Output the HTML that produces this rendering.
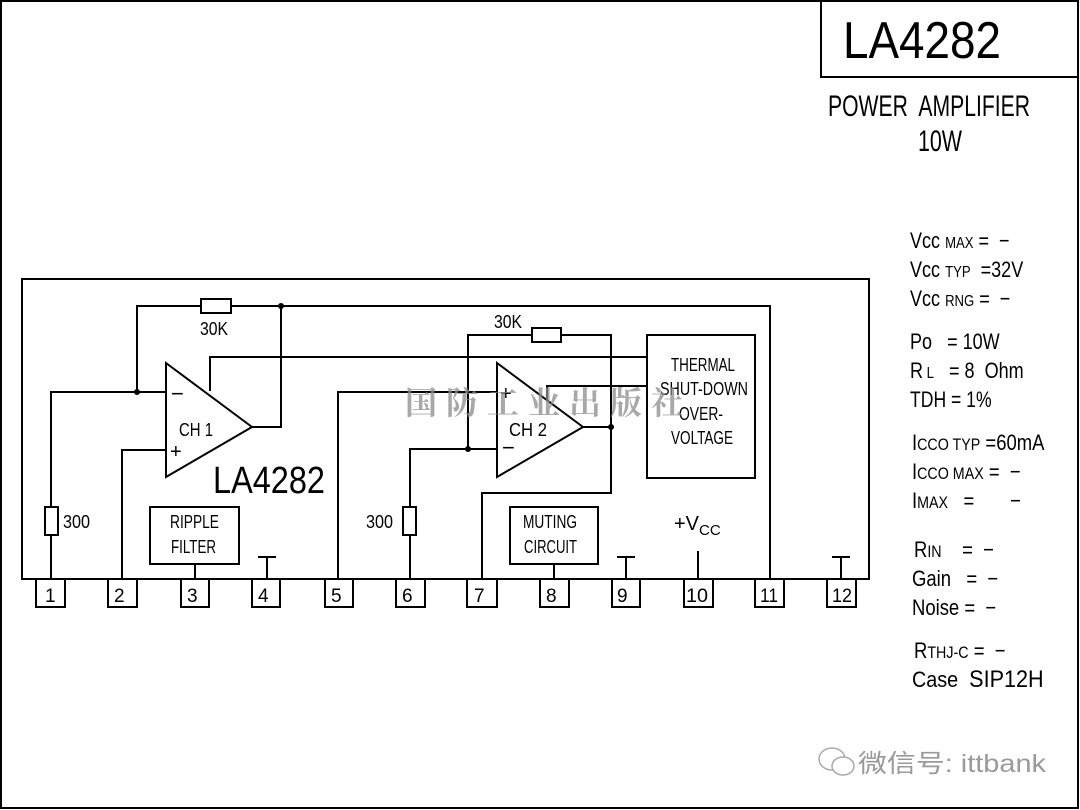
<!DOCTYPE html>
<html><head><meta charset="utf-8"><style>
html,body{margin:0;padding:0;background:#fff;width:1080px;height:810px;overflow:hidden}
svg{display:block}
text{font-family:"Liberation Sans","Noto Sans CJK SC",sans-serif;fill:#000;white-space:pre}
</style></head><body>
<svg width="1080" height="810" viewBox="0 0 1080 810" xmlns="http://www.w3.org/2000/svg">
<rect x="1" y="1" width="1077" height="807" fill="none" stroke="#000" stroke-width="2"/>
<path d="M821 1 V77 H1078" fill="none" stroke="#000" stroke-width="2"/>
<text x="843" y="58" font-size="52" textLength="158" lengthAdjust="spacingAndGlyphs">LA4282</text>
<text x="828" y="116" font-size="30" textLength="202" lengthAdjust="spacingAndGlyphs">POWER  AMPLIFIER</text>
<text x="918" y="151" font-size="30" textLength="44" lengthAdjust="spacingAndGlyphs">10W</text>

<g stroke="#000" stroke-width="2" fill="none">
<rect x="22" y="279" width="847" height="300"/>
<rect x="36" y="579" width="29" height="28"/>
<rect x="108" y="579" width="29" height="28"/>
<rect x="181" y="579" width="28" height="28"/>
<rect x="252" y="579" width="28" height="28"/>
<rect x="325" y="579" width="28" height="28"/>
<rect x="396" y="579" width="29" height="28"/>
<rect x="467" y="579" width="30" height="28"/>
<rect x="540" y="579" width="29" height="28"/>
<rect x="612" y="579" width="28" height="28"/>
<rect x="684" y="579" width="29" height="28"/>
<rect x="755" y="579" width="29" height="28"/>
<rect x="827" y="579" width="29" height="28"/>
<path d="M166 363 L252 427 L166 477 Z"/>
<path d="M137 392 V306 H770 V579"/>
<path d="M51 579 V535 M51 507 V392 H166"/>
<rect x="45" y="507" width="13" height="28" fill="#fff"/>
<path d="M122 579 V450 H166"/>
<path d="M252 427 H281 V306"/>
<path d="M210 391 V357 H647"/>
<rect x="201" y="299" width="30" height="14" fill="#fff"/>
<rect x="150" y="507" width="89" height="57"/>
<path d="M195 564 V579"/>
<path d="M267 579 V557 M258 557 H276"/>
<path d="M497 363 L583 427 L497 477 Z"/>
<path d="M338 579 V392 H497"/>
<path d="M410 579 V535 M410 507 V449 H497"/>
<rect x="403" y="507" width="13" height="28" fill="#fff"/>
<path d="M468 449 V335 H611 V493 H482 V579"/>
<path d="M583 427 H611"/>
<rect x="532" y="328" width="29" height="14" fill="#fff"/>
<path d="M547 400 V386 H647"/>
<rect x="647" y="335" width="108" height="143"/>
<rect x="510" y="507" width="88" height="57"/>
<path d="M554 564 V579"/>
<path d="M626 579 V557 M617 557 H635"/>
<path d="M698 579 V551"/>
<path d="M841 579 V557 M832 557 H850"/>
</g>
<g fill="#000">
<circle cx="137" cy="392" r="3"/><circle cx="281" cy="306" r="3"/>
<circle cx="468" cy="449" r="3"/><circle cx="611" cy="427" r="3"/>
</g>
<g font-size="18">
<text x="200" y="335" textLength="28" lengthAdjust="spacingAndGlyphs">30K</text>
<text x="494" y="328" textLength="28" lengthAdjust="spacingAndGlyphs">30K</text>
<text x="63" y="528" textLength="27" lengthAdjust="spacingAndGlyphs">300</text>
<text x="366" y="528" textLength="27" lengthAdjust="spacingAndGlyphs">300</text>
<text x="179" y="436" textLength="34" lengthAdjust="spacingAndGlyphs">CH 1</text>
<text x="509" y="436" textLength="38" lengthAdjust="spacingAndGlyphs">CH 2</text>
<text x="170" y="528" textLength="49" lengthAdjust="spacingAndGlyphs">RIPPLE</text>
<text x="171" y="553" textLength="45" lengthAdjust="spacingAndGlyphs">FILTER</text>
<text x="523" y="528" textLength="54" lengthAdjust="spacingAndGlyphs">MUTING</text>
<text x="524" y="553" textLength="53" lengthAdjust="spacingAndGlyphs">CIRCUIT</text>
<text x="671" y="371" textLength="64" lengthAdjust="spacingAndGlyphs">THERMAL</text>
<text x="660" y="395" textLength="88" lengthAdjust="spacingAndGlyphs">SHUT-DOWN</text>
<text x="679" y="420" textLength="44" lengthAdjust="spacingAndGlyphs">OVER-</text>
<text x="671" y="444" textLength="62" lengthAdjust="spacingAndGlyphs">VOLTAGE</text>
</g>
<text x="171" y="401" font-size="22">−</text>
<text x="170" y="458" font-size="20">+</text>
<text x="500" y="400" font-size="20">+</text>
<text x="502" y="455" font-size="22">−</text>
<text x="213" y="493" font-size="38" textLength="112" lengthAdjust="spacingAndGlyphs">LA4282</text>
<text x="674" y="530" font-size="20">+V<tspan font-size="15" dy="5">CC</tspan></text>
<g font-size="19">
<text x="45" y="602">1</text><text x="114" y="602">2</text><text x="187" y="602">3</text>
<text x="258" y="602">4</text><text x="331" y="602">5</text><text x="402" y="602">6</text>
<text x="474" y="602">7</text><text x="546" y="602">8</text><text x="617" y="602">9</text>
<text x="686" y="602" textLength="22" lengthAdjust="spacingAndGlyphs">10</text>
<text x="760" y="602" textLength="18" lengthAdjust="spacingAndGlyphs">11</text>
<text x="832" y="602" textLength="20" lengthAdjust="spacingAndGlyphs">12</text>
</g>
<text x="405" y="414" font-size="32" letter-spacing="9" style="fill:#8c8c8c;font-family:'Noto Serif CJK SC','Noto Sans CJK SC',sans-serif;font-weight:bold" opacity="0.75">国防工业出版社</text>
<g font-size="22">
<text transform="translate(910,248) scale(0.82,1)">Vcc <tspan font-size="16">MAX</tspan> =  −</text>
<text transform="translate(910,277) scale(0.82,1)">Vcc <tspan font-size="16">TYP</tspan>  =32V</text>
<text transform="translate(910,306) scale(0.82,1)">Vcc <tspan font-size="16">RNG</tspan> =  −</text>
<text transform="translate(910,349) scale(0.82,1)">Po   = 10W</text>
<text transform="translate(910,378) scale(0.82,1)">R<tspan font-size="16"> L</tspan>   = 8  Ohm</text>
<text transform="translate(910,407) scale(0.8,1)">TDH = 1%</text>
<text transform="translate(912,450) scale(0.84,1)">I<tspan font-size="17">CCO TYP</tspan> =60mA</text>
<text transform="translate(912,479) scale(0.84,1)">I<tspan font-size="17">CCO MAX</tspan> =  −</text>
<text transform="translate(912,508) scale(0.84,1)">I<tspan font-size="17">MAX</tspan>   =       −</text>
<text transform="translate(914,557) scale(0.84,1)">R<tspan font-size="17">IN</tspan>    =  −</text>
<text transform="translate(912,586) scale(0.84,1)">Gain   =  −</text>
<text transform="translate(912,615) scale(0.84,1)">Noise =  −</text>
<text transform="translate(914,658) scale(0.84,1)">R<tspan font-size="17">THJ-C</tspan> =  −</text>
<text transform="translate(912,687) scale(0.9,1)">Case  <tspan font-size="24">SIP12H</tspan></text>
</g>
<g fill="none" stroke="#aaa" stroke-width="1.5">
<ellipse cx="832" cy="759" rx="13" ry="11"/>
<ellipse cx="843" cy="766" rx="11" ry="9" fill="#fff"/>
</g>
<text x="858" y="772" font-size="25" style="fill:#9a9a9a" textLength="188" lengthAdjust="spacingAndGlyphs">微信号: ittbank</text>
</svg>
</body></html>
